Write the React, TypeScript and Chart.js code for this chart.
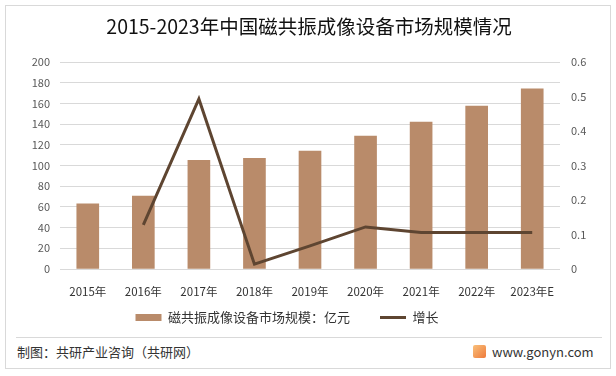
import React, { useEffect, useRef } from 'react';
import { Chart, registerables } from 'chart.js';

Chart.register(...registerables);

const categories = ['2015年', '2016年', '2017年', '2018年', '2019年', '2020年', '2021年', '2022年', '2023年E'];
const marketSize = [63, 70.5, 105, 107, 114, 128.5, 142, 157.5, 174];
const growthRate = [null, 0.128, 0.493, 0.014, 0.067, 0.122, 0.106, 0.106, 0.106];

const titleText = '2015-2023年中国磁共振成像设备市场规模情况';
const barLabel = '磁共振成像设备市场规模：亿元';
const lineLabel = '增长';
const footerLeft = '制图：共研产业咨询（共研网）';
const footerRight = 'www.gonyn.com';

const FONT = "'Noto Sans CJK SC', 'Noto Sans', sans-serif";
const BAR_COLOR = '#B98B6A';
const LINE_COLOR = '#5E4531';
const GRID_COLOR = '#D9D9D9';

const legendShift = {
  id: 'legendShift',
  afterLayout(chart: any) {
    const lg = chart.legend;
    if (lg) {
      lg.left -= 22;
      lg.right -= 22;
      lg.top -= 18;
    }
  },
};

export default function App() {
  const canvasRef = useRef<HTMLCanvasElement | null>(null);

  useEffect(() => {
    if (!canvasRef.current) return;
    const chart = new Chart(canvasRef.current, {
      type: 'bar',
      data: {
        labels: categories,
        datasets: [
          {
            type: 'bar',
            label: barLabel,
            data: marketSize,
            backgroundColor: BAR_COLOR,
            barThickness: 22,
            yAxisID: 'y',
            order: 2,
          },
          {
            type: 'line',
            label: lineLabel,
            data: growthRate as any,
            borderColor: LINE_COLOR,
            backgroundColor: LINE_COLOR,
            borderWidth: 3,
            pointRadius: 0,
            tension: 0,
            yAxisID: 'y1',
            order: 1,
          },
        ],
      },
      plugins: [legendShift],
      options: {
        responsive: false,
        animation: false,
        devicePixelRatio: 1,
        layout: { padding: { left: 8, right: 6, top: 8, bottom: 4 } },
        plugins: {
          title: {
            display: true,
            text: titleText,
            color: '#111',
            font: { size: 19.5, family: FONT, weight: 'normal' },
            padding: { top: 7, bottom: 23.6 },
          },
          legend: {
            position: 'bottom',
            maxHeight: 33,
            labels: {
              usePointStyle: true,
              pointStyleWidth: 26,
              boxHeight: 7,
              color: '#333',
              font: { size: 13, family: FONT },
              padding: 30,
              sort: (a: any, b: any) => a.datasetIndex - b.datasetIndex,
              generateLabels: (c: any) => {
                const items = Chart.defaults.plugins.legend.labels.generateLabels(c);
                items.forEach((it: any) => {
                  if (it.datasetIndex === 0) {
                    it.pointStyle = 'rect';
                    it.lineWidth = 0;
                    it.fillStyle = BAR_COLOR;
                    it.strokeStyle = BAR_COLOR;
                  } else {
                    it.pointStyle = 'line';
                    it.lineWidth = 3;
                    it.strokeStyle = LINE_COLOR;
                  }
                });
                return items;
              },
            },
          },
          tooltip: { enabled: false },
        },
        scales: {
          x: {
            grid: { display: false, drawTicks: false },
            border: { display: false },
            ticks: { color: '#333', font: { size: 11.5, family: FONT }, padding: 16, maxRotation: 0, autoSkip: false },
            afterFit: (s: any) => { s.height = 30; },
          },
          y: {
            position: 'left',
            min: 0,
            max: 200,
            ticks: { stepSize: 20, color: '#595959', font: { size: 11, family: FONT }, padding: 10 },
            grid: { color: GRID_COLOR, drawTicks: false },
            border: { display: false },
            afterFit: (s: any) => { s.width = 52; },
          },
          y1: {
            position: 'right',
            min: 0,
            max: 0.6,
            ticks: {
              stepSize: 0.1,
              color: '#595959',
              font: { size: 11, family: FONT },
              padding: 11,
              callback: (v: any) => String(+Number(v).toFixed(1)),
            },
            grid: { display: false, drawTicks: false },
            border: { display: false },
            afterFit: (s: any) => { s.width = 50; },
          },
        },
      },
    });
    return () => chart.destroy();
  }, []);

  return (
    <div style={{ position: 'absolute', left: 0, top: 0, width: 616, height: 376, background: '#fff', fontFamily: FONT }}>
      <div style={{ position: 'absolute', left: 5, top: 5, width: 604, height: 362, border: `1px solid ${GRID_COLOR}` }} />
      <canvas ref={canvasRef} width={616} height={336} style={{ position: 'absolute', left: 0, top: 0, width: 616, height: 336 }} />
      <div style={{ position: 'absolute', left: 16, top: 337, width: 586, height: 1, background: GRID_COLOR }} />
      <div style={{ position: 'absolute', left: 17, top: 343, fontSize: 13, lineHeight: '18px', color: '#333' }}>{footerLeft}</div>
      <div style={{ position: 'absolute', left: 473, top: 345, width: 13, height: 13, background: 'linear-gradient(135deg, #F9C07A, #EE7A3B)', borderRadius: 2 }} />
      <div style={{ position: 'absolute', left: 492, top: 343, fontSize: 13, lineHeight: '18px', color: '#333' }}>{footerRight}</div>
    </div>
  );
}
